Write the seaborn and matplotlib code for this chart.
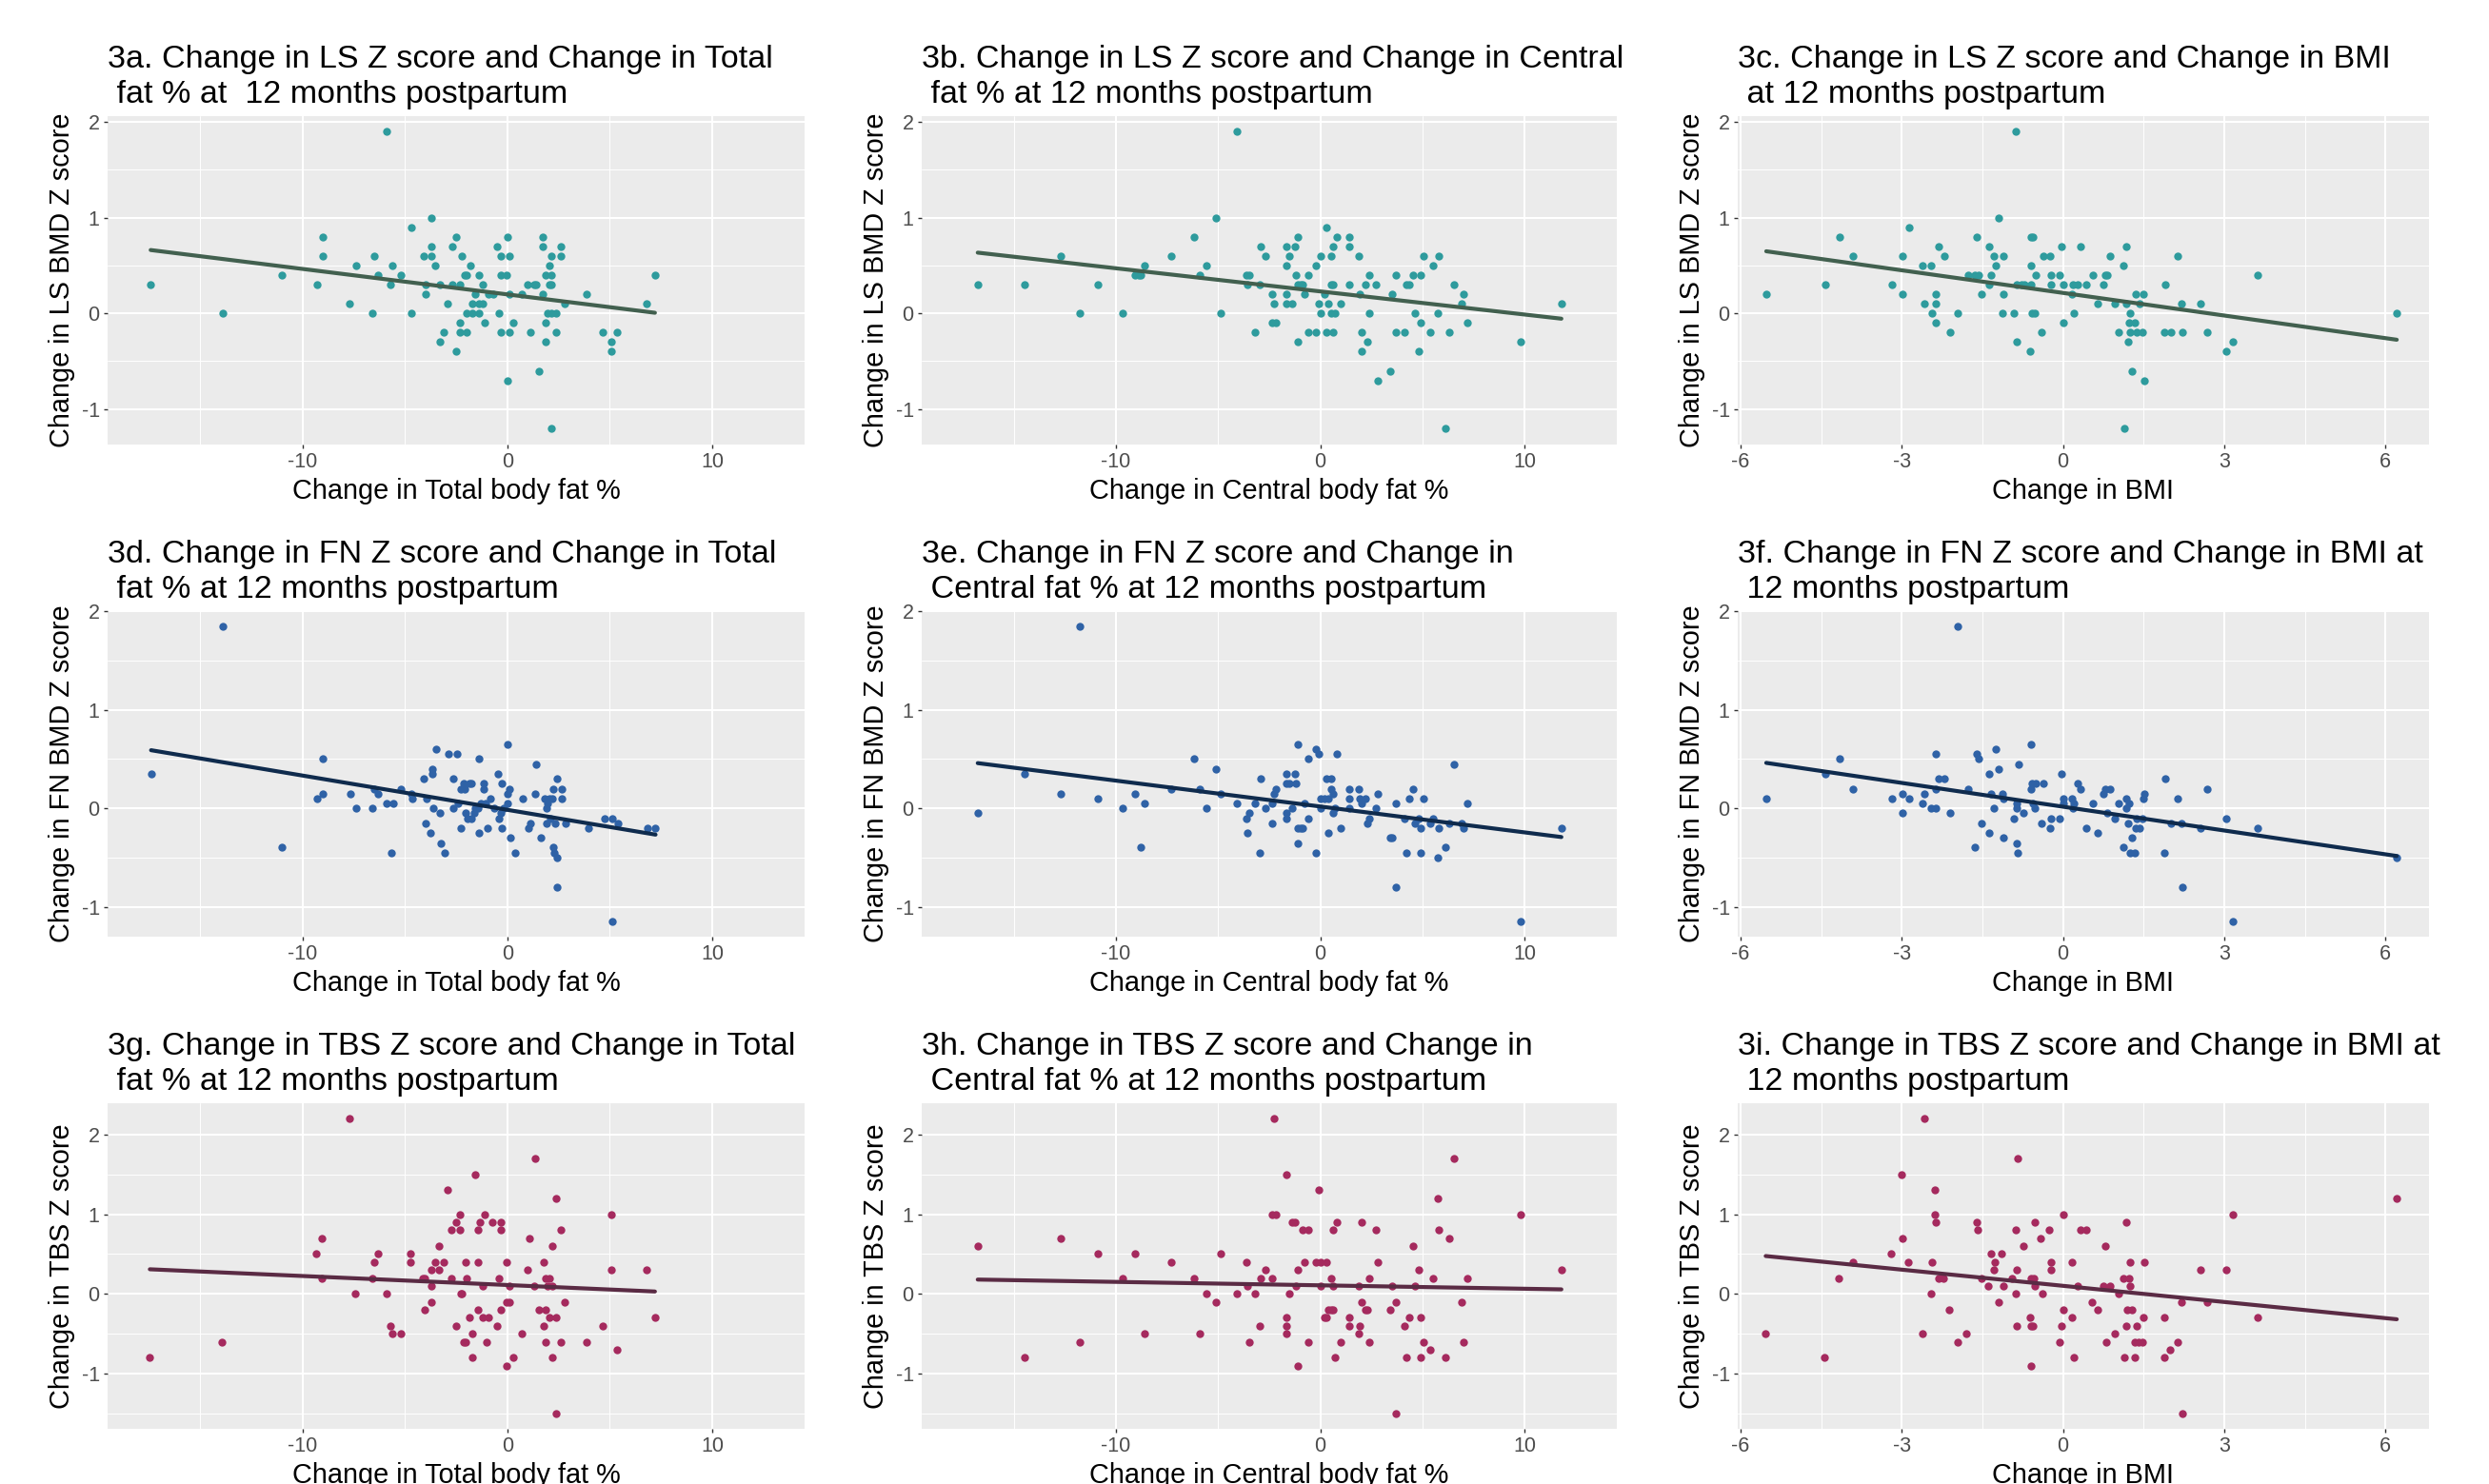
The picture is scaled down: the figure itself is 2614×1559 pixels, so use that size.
import matplotlib
matplotlib.use("Agg")
import matplotlib.pyplot as plt
from matplotlib.ticker import MultipleLocator
import seaborn as sns


# ---- data (one pair of lists per panel) ----
LS_TOTAL_X = [-17.4, -13.9, -11.0, -9.3, -9.0, -9.0, -7.7, -7.4, -6.6, -6.5, -6.3, -5.9, -5.7, -5.6,
              -5.2, -4.7, -4.7, -4.1, -4.0, -4.0, -3.7, -3.7, -3.7, -3.5, -3.3, -3.3, -3.1, -2.9,
              -2.7, -2.7, -2.5, -2.5, -2.3, -2.3, -2.3, -2.2, -2.1, -2.0, -2.0, -2.0, -1.8, -1.7,
              -1.7, -1.55, -1.4, -1.4, -1.4, -1.2, -1.2, -1.1, -0.9, -0.7, -0.5, -0.4, -0.3, -0.3,
              -0.3, -0.05, 0.0, 0.0, 0.1, 0.1, 0.1, 0.3, 0.7, 1.0, 1.1, 1.3, 1.4, 1.55, 1.75, 1.75,
              1.75, 1.85, 1.85, 1.85, 1.95, 2.05, 2.05, 2.15, 2.15, 2.15, 2.15, 2.15, 2.4, 2.4, 2.6,
              2.6, 2.8, 3.85, 4.65, 5.05, 5.05, 5.35, 6.8, 7.2]
LS_TOTAL_Y = [0.3, 0.0, 0.4, 0.3, 0.8, 0.6, 0.1, 0.5, 0.0, 0.6, 0.4, 1.9, 0.3, 0.5,
              0.4, 0.9, 0.0, 0.6, 0.3, 0.2, 1.0, 0.7, 0.6, 0.5, 0.3, -0.3, -0.2, 0.1,
              0.7, 0.3, 0.8, -0.4, 0.3, -0.1, -0.2, 0.6, 0.4, 0.4, -0.2, 0.0, 0.5, 0.1,
              0.0, 0.2, 0.4, 0.1, 0.0, 0.3, 0.1, -0.1, 0.2, 0.2, 0.7, 0.0, 0.6, 0.4,
              -0.2, 0.4, 0.8, -0.7, 0.6, 0.2, -0.2, -0.1, 0.2, 0.3, -0.2, 0.3, 0.3, -0.6, 0.8, 0.7,
              0.2, 0.4, -0.1, -0.3, 0.0, 0.5, 0.3, 0.6, 0.4, 0.3, -1.2, 0.0, 0.0, -0.2, 0.7,
              0.6, 0.1, 0.2, -0.2, -0.3, -0.4, -0.2, 0.1, 0.4]

LS_CENTRAL_X = [-16.76, -14.48, -12.69, -11.76, -10.88, -9.69, -9.09, -8.89, -8.78, -8.58, -7.31,
                -6.19, -5.88, -5.57, -5.10, -4.87, -4.09, -3.63, -3.50, -3.58, -3.19, -2.98, -2.90,
                -2.69, -2.38, -2.38, -2.28, -2.18, -1.68, -1.68, -1.68, -1.68, -1.50, -1.40, -1.22,
                -1.19, -1.11, -1.11, -1.11, -0.98, -0.88, -0.80, -0.60, -0.60, -0.21, -0.21, -0.08,
                0.0, 0.0, 0.31, 0.21, 0.31, 0.41, 0.52, 0.52, 0.52, 0.62, 0.62, 0.62, 0.73, 0.80,
                1.01, 1.40, 1.40, 1.40, 1.89, 1.94, 2.02, 2.02, 2.20, 2.31, 2.41, 2.41, 2.72, 2.82,
                3.42, 3.52, 3.70, 3.70, 4.12, 4.22, 4.33, 4.51, 4.61, 4.82, 4.92, 4.92, 5.03, 5.39,
                5.52, 5.73, 5.80, 6.11, 6.32, 6.53, 6.92, 7.02, 7.20, 9.79, 11.79]
LS_CENTRAL_Y = [0.3, 0.3, 0.6, 0.0, 0.3, 0.0, 0.4, 0.4, 0.4, 0.5, 0.6,
                0.8, 0.4, 0.5, 1.0, 0.0, 1.9, 0.4, 0.4, 0.3, -0.2, 0.3, 0.7,
                0.6, 0.2, -0.1, 0.1, -0.1, 0.7, 0.5, 0.2, 0.1, 0.6, 0.1, 0.7,
                0.4, 0.8, 0.3, -0.3, 0.3, 0.3, 0.2, 0.4, -0.2, 0.5, -0.2, 0.1,
                0.6, 0.0, 0.9, 0.2, -0.2, 0.1, 0.6, 0.3, 0.0, 0.7, 0.3, -0.2, 0.0, 0.8,
                0.1, 0.8, 0.7, 0.3, 0.6, 0.2, -0.2, -0.4, 0.3, -0.3, 0.4, 0.0, 0.3, -0.7,
                -0.6, 0.2, 0.4, -0.2, -0.2, 0.3, 0.3, 0.4, 0.0, -0.4, 0.4, -0.1, 0.6, -0.2,
                0.5, 0.0, 0.6, -1.2, -0.2, 0.3, 0.1, 0.2, -0.1, -0.3, 0.1]

LS_BMI_X = [-5.52, -4.42, -4.16, -3.91, -3.18, -2.98, -2.98, -2.87, -2.61, -2.57, -2.45, -2.43,
            -2.37, -2.37, -2.37, -2.31, -2.21, -2.10, -1.95, -1.77, -1.64, -1.60, -1.57, -1.51,
            -1.38, -1.38, -1.33, -1.28, -1.25, -1.19, -1.13, -1.10, -1.10, -0.92, -0.88, -0.86,
            -0.86, -0.78, -0.71, -0.62, -0.60, -0.60, -0.59, -0.56, -0.57, -0.52, -0.51, -0.40,
            -0.37, -0.24, -0.22, -0.22, -0.06, -0.03, 0.01, 0.01, 0.17, 0.19, 0.21, 0.28, 0.33,
            0.44, 0.55, 0.65, 0.75, 0.78, 0.82, 0.88, 0.97, 1.04, 1.13, 1.18, 1.18, 1.22, 1.14,
            1.23, 1.25, 1.25, 1.28, 1.34, 1.36, 1.37, 1.43, 1.47, 1.50, 1.52, 1.89, 1.90, 2.01,
            2.14, 2.21, 2.23, 2.56, 2.69, 3.04, 3.16, 3.63, 6.21]
LS_BMI_Y = [0.2, 0.3, 0.8, 0.6, 0.3, 0.6, 0.2, 0.9, 0.5, 0.1, 0.5, 0.0,
            0.2, 0.1, -0.1, 0.7, 0.6, -0.2, 0.0, 0.4, 0.4, 0.8, 0.4, 0.2,
            0.7, 0.3, 0.4, 0.6, 0.5, 1.0, 0.0, 0.6, 0.2, 0.0, 1.9, 0.3,
            -0.3, 0.3, 0.3, -0.4, 0.5, 0.3, 0.8, 0.8, 0.0, 0.0, 0.4, -0.2,
            0.6, 0.6, 0.4, 0.3, 0.4, 0.7, 0.3, -0.1, 0.2, 0.3, 0.0, 0.3, 0.7,
            0.3, 0.4, 0.1, 0.3, 0.4, 0.4, 0.6, 0.1, -0.2, 0.5, 0.7, 0.1, -0.3, -1.2,
            -0.1, 0.0, -0.2, -0.6, -0.1, 0.2, -0.2, 0.1, -0.2, 0.2, -0.7, -0.2, 0.3, -0.2,
            0.6, 0.1, -0.2, 0.1, -0.2, -0.4, -0.3, 0.4, 0.0]

FN_TOTAL_X = [-17.38, -13.89, -10.98, -9.27, -8.99, -8.99, -7.67, -7.36, -6.58, -6.50, -6.30,
              -5.88, -5.67, -5.57, -5.18, -4.69, -4.64, -4.07, -3.99, -3.94, -3.76, -3.68, -3.68,
              -3.63, -3.47, -3.29, -3.26, -3.06, -2.88, -2.64, -2.64, -2.46, -2.41, -2.25, -2.25,
              -2.15, -2.07, -2.02, -1.94, -1.84, -1.76, -1.74, -1.63, -1.55, -1.42, -1.37, -1.37,
              -1.30, -1.17, -1.17, -1.04, -0.96, -0.85, -0.62, -0.47, -0.39, -0.31, -0.26, -0.26,
              -0.18, 0.03, 0.03, 0.03, 0.10, 0.13, 0.36, 0.73, 1.04, 1.14, 1.35, 1.40, 1.63, 1.81,
              1.89, 1.92, 1.97, 2.07, 2.10, 2.20, 2.23, 2.23, 2.28, 2.33, 2.44, 2.44, 2.44, 2.64,
              2.64, 2.85, 3.94, 4.74, 5.13, 5.13, 5.41, 6.84, 7.23]
FN_TOTAL_Y = [0.35, 1.85, -0.39, 0.10, 0.50, 0.15, 0.15, 0.0, 0.0, 0.20, 0.15,
              0.05, -0.45, 0.05, 0.20, 0.15, 0.10, 0.30, -0.15, 0.10, -0.25, 0.40, 0.35,
              0.0, 0.60, -0.05, -0.35, -0.45, 0.55, 0.30, 0.0, 0.55, 0.05, -0.20, 0.20,
              0.25, 0.20, -0.05, -0.10, 0.25, 0.25, -0.10, -0.05, 0.0, 0.0, 0.50, -0.25,
              0.05, 0.25, 0.20, 0.05, -0.20, 0.10, 0.0, 0.35, -0.10, -0.05, 0.25, -0.20,
              0.0, 0.65, 0.15, 0.05, 0.20, -0.30, -0.45, 0.10, -0.20, -0.15, 0.15, 0.45, -0.30, 0.10,
              0.0, -0.15, 0.05, 0.10, -0.10, 0.10, 0.20, -0.39, -0.45, -0.15, 0.30, -0.50, -0.80, 0.20,
              0.10, -0.15, -0.20, -0.10, -0.10, -1.15, -0.15, -0.20, -0.20]

FN_CENTRAL_X = [-16.76, -14.48, -12.69, -11.76, -10.88, -9.69, -9.09, -8.78, -8.58, -7.31, -6.19,
                -5.88, -5.57, -5.10, -4.87, -4.09, -3.63, -3.58, -3.50, -3.19, -2.98, -2.90, -2.69,
                -2.38, -2.38, -2.28, -2.18, -1.68, -1.68, -1.68, -1.68, -1.50, -1.40, -1.22, -1.19,
                -1.11, -1.11, -1.11, -0.98, -0.88, -0.80, -0.60, -0.60, -0.21, -0.21, -0.08, 0.0,
                0.0, 0.21, 0.31, 0.41, 0.41, 0.52, 0.52, 0.62, 0.62, 0.73, 0.80, 1.01, 1.40, 1.40,
                1.40, 1.89, 1.94, 2.02, 2.20, 2.31, 2.41, 2.72, 2.82, 3.42, 3.52, 3.70, 3.70, 4.12,
                4.22, 4.33, 4.51, 4.61, 4.82, 4.92, 4.92, 5.03, 5.39, 5.52, 5.73, 5.80, 6.11, 6.32,
                6.53, 6.92, 7.02, 7.20, 9.79, 11.79]
FN_CENTRAL_Y = [-0.05, 0.35, 0.15, 1.85, 0.10, 0.0, 0.15, -0.39, 0.05, 0.20, 0.50,
                0.20, 0.0, 0.40, 0.15, 0.05, -0.10, -0.25, -0.05, 0.05, -0.45, 0.30, 0.0,
                -0.15, 0.05, 0.15, 0.20, 0.35, 0.25, -0.05, -0.10, 0.25, 0.0, 0.35, 0.25,
                0.65, -0.20, -0.35, -0.20, -0.20, 0.05, 0.50, -0.10, 0.60, -0.45, 0.55, 0.10,
                0.0, 0.10, 0.30, -0.25, 0.10, 0.30, 0.20, 0.15, -0.05, 0.0, 0.55, -0.20, 0.20, 0.10,
                0.0, 0.20, 0.10, 0.05, 0.10, -0.15, -0.10, 0.0, 0.15, -0.30, -0.30, 0.05, -0.80, -0.10,
                -0.45, 0.10, 0.20, -0.15, -0.10, -0.20, -0.45, 0.10, -0.15, -0.10, -0.50, -0.20, -0.39, -0.15,
                0.45, -0.15, -0.20, 0.05, -1.15, -0.20]

FN_BMI_X = [-5.52, -4.42, -4.16, -3.91, -3.18, -2.98, -2.98, -2.87, -2.61, -2.57, -2.45, -2.37,
            -2.37, -2.37, -2.31, -2.21, -2.10, -1.95, -1.77, -1.64, -1.60, -1.57, -1.51, -1.38,
            -1.38, -1.33, -1.28, -1.25, -1.19, -1.13, -1.10, -1.10, -0.92, -0.86, -0.86, -0.86,
            -0.85, -0.83, -0.74, -0.60, -0.60, -0.57, -0.56, -0.52, -0.51, -0.40, -0.37, -0.24,
            -0.22, -0.06, -0.03, 0.01, 0.01, 0.17, 0.19, 0.21, 0.28, 0.33, 0.44, 0.55, 0.65, 0.75,
            0.78, 0.82, 0.88, 0.97, 1.04, 1.13, 1.18, 1.18, 1.22, 1.23, 1.25, 1.28, 1.34, 1.36,
            1.37, 1.43, 1.47, 1.50, 1.52, 1.89, 1.90, 2.01, 2.14, 2.21, 2.23, 2.56, 2.69, 3.04,
            3.16, 3.63, 6.21]
FN_BMI_Y = [0.10, 0.35, 0.50, 0.20, 0.10, 0.15, -0.05, 0.10, 0.05, 0.15, 0.0, 0.0,
            0.55, 0.20, 0.30, 0.30, -0.05, 1.85, 0.20, -0.39, 0.55, 0.50, -0.15, 0.35,
            -0.25, 0.15, 0.0, 0.60, 0.40, 0.15, 0.10, -0.30, -0.10, 0.0, 0.05, -0.35,
            -0.45, 0.45, -0.05, 0.65, 0.20, 0.25, 0.05, 0.0, 0.25, -0.15, 0.25, -0.20,
            -0.10, -0.10, 0.35, 0.10, 0.05, 0.10, 0.0, 0.05, 0.25, 0.20, -0.20, 0.05, -0.25, 0.15,
            0.20, -0.05, 0.20, -0.10, 0.05, -0.39, 0.10, 0.0, -0.15, 0.05, -0.45, -0.30, -0.45, -0.20,
            -0.10, -0.20, -0.10, 0.10, 0.15, -0.45, 0.30, -0.15, 0.10, -0.15, -0.80, -0.20, 0.20, -0.10,
            -1.15, -0.20, -0.50]

TBS_TOTAL_X = [-17.44, -13.91, -9.33, -9.04, -9.04, -7.72, -7.41, -6.61, -6.50, -6.32, -5.91,
               -5.70, -5.62, -5.21, -4.74, -4.72, -4.12, -4.04, -4.02, -3.70, -3.70, -3.70, -3.52,
               -3.34, -3.34, -3.11, -2.93, -2.72, -2.72, -2.51, -2.51, -2.31, -2.31, -2.28, -2.20,
               -2.15, -2.02, -2.02, -1.99, -1.84, -1.71, -1.71, -1.55, -1.42, -1.42, -1.42, -1.32,
               -1.22, -1.22, -1.11, -1.01, -0.91, -0.73, -0.52, -0.41, -0.31, -0.31, -0.31, -0.03,
               -0.03, -0.03, 0.08, 0.08, 0.28, 0.70, 0.98, 1.09, 1.30, 1.37, 1.55, 1.76, 1.76, 1.87,
               1.87, 1.87, 1.97, 2.07, 2.07, 2.18, 2.18, 2.18, 2.38, 2.38, 2.38, 2.59, 2.59, 2.80,
               3.86, 4.66, 5.08, 5.08, 5.36, 6.79, 7.20]
TBS_TOTAL_Y = [-0.8, -0.6, 0.5, 0.7, 0.2, 2.2, 0.0, 0.2, 0.4, 0.5, 0.0,
               -0.4, -0.5, -0.5, 0.5, 0.4, 0.2, -0.2, 0.2, -0.1, 0.1, 0.3, 0.4,
               0.6, 0.3, 0.4, 1.3, 0.2, 0.8, 0.9, -0.4, 0.8, 1.0, 0.0, 0.0,
               -0.6, -0.6, 0.4, 0.2, -0.3, -0.5, -0.8, 1.5, 0.8, 0.4, -0.2, 0.9,
               0.1, -0.3, 1.0, -0.6, -0.3, 0.9, -0.4, 0.2, 0.9, 0.8, -0.2, 0.4,
               -0.1, -0.9, -0.1, 0.1, -0.8, -0.5, 0.3, 0.7, 0.1, 1.7, -0.2, 0.4, -0.4, -0.2,
               -0.6, 0.2, 0.1, 0.2, -0.3, 0.6, 0.1, -0.8, 1.2, -0.3, -1.5, 0.8, -0.6, -0.1,
               -0.6, -0.4, 1.0, 0.3, -0.7, 0.3, -0.3]

TBS_CENTRAL_X = [-16.76, -14.48, -12.69, -11.76, -10.88, -9.69, -9.09, -8.58, -7.31, -6.19, -5.88,
                 -5.57, -5.10, -4.87, -4.09, -3.63, -3.58, -3.50, -3.19, -2.98, -2.90, -2.69, -2.38,
                 -2.38, -2.28, -2.18, -1.68, -1.68, -1.68, -1.68, -1.50, -1.40, -1.22, -1.19, -1.11,
                 -1.11, -0.88, -0.80, -0.60, -0.60, -0.21, -0.08, 0.0, 0.0, 0.21, 0.31, 0.31, 0.41,
                 0.52, 0.52, 0.62, 0.62, 0.62, 0.73, 0.80, 1.01, 1.40, 1.40, 1.89, 1.89, 1.94, 2.02,
                 2.02, 2.20, 2.31, 2.41, 2.41, 2.72, 2.82, 3.42, 3.52, 3.70, 3.70, 4.12, 4.22, 4.33,
                 4.51, 4.61, 4.82, 4.92, 4.92, 5.03, 5.39, 5.52, 5.73, 5.80, 6.11, 6.32, 6.53, 6.92,
                 7.02, 7.20, 9.79, 11.79]
TBS_CENTRAL_Y = [0.6, -0.8, 0.7, -0.6, 0.5, 0.2, 0.5, -0.5, 0.4, 0.2, -0.5,
                 0.0, -0.1, 0.5, 0.0, 0.4, 0.1, -0.6, 0.0, -0.4, 0.2, 0.3, 0.2,
                 1.0, 2.2, 1.0, 1.5, -0.3, -0.4, -0.5, 0.0, 0.9, 0.9, 0.1, 0.3,
                 -0.9, 0.8, 0.4, 0.8, -0.6, 0.4, 1.3, 0.4, 0.1, -0.3, 0.4, -0.3, -0.2,
                 0.2, -0.2, 0.8, 0.1, -0.2, -0.8, 0.9, -0.6, -0.3, -0.4, 0.1, -0.5, -0.4, 0.9,
                 -0.1, -0.2, -0.2, 0.2, -0.6, 0.8, 0.4, -0.2, 0.1, -0.1, -1.5, -0.4, -0.8, -0.3,
                 0.6, 0.1, 0.3, -0.3, -0.8, -0.6, -0.7, 0.2, 1.2, 0.8, -0.8, 0.7, 1.7, -0.1,
                 -0.6, 0.2, 1.0, 0.3]

TBS_BMI_X = [-5.53, -4.44, -4.17, -3.91, -3.19, -3.00, -2.99, -2.88, -2.62, -2.58, -2.46, -2.44,
             -2.38, -2.38, -2.37, -2.32, -2.22, -2.12, -1.96, -1.79, -1.61, -1.58, -1.51, -1.39,
             -1.33, -1.29, -1.26, -1.20, -1.14, -1.11, -0.94, -0.88, -0.87, -0.86, -0.86, -0.84,
             -0.74, -0.61, -0.60, -0.60, -0.59, -0.56, -0.54, -0.53, -0.52, -0.41, -0.38, -0.25,
             -0.23, -0.22, -0.07, -0.03, 0.0, 0.0, 0.16, 0.17, 0.21, 0.28, 0.33, 0.44, 0.54, 0.64,
             0.75, 0.78, 0.80, 0.87, 0.97, 1.04, 1.13, 1.14, 1.17, 1.18, 1.20, 1.23, 1.24, 1.25,
             1.28, 1.34, 1.34, 1.37, 1.41, 1.47, 1.49, 1.52, 1.88, 1.89, 2.00, 2.14, 2.21, 2.22,
             2.56, 2.68, 3.04, 3.16, 3.62, 6.21]
TBS_BMI_Y = [-0.5, -0.8, 0.2, 0.4, 0.5, 1.5, 0.7, 0.4, -0.5, 2.2, 0.0, 0.4,
             1.3, 1.0, 0.9, 0.2, 0.2, -0.2, -0.6, -0.5, 0.9, 0.8, 0.2, 0.1,
             0.5, 0.3, 0.4, -0.1, 0.5, 0.1, 0.2, 0.0, 0.8, -0.4, 0.3, 1.7,
             0.6, -0.3, -0.4, -0.9, 0.2, -0.4, 0.2, 0.1, 0.9, 0.7, 0.0, 0.8,
             0.3, 0.4, -0.6, -0.4, 1.0, -0.2, 0.4, -0.3, -0.8, 0.1, 0.8, 0.8, -0.1, -0.2,
             0.1, 0.6, -0.6, 0.1, -0.5, 0.0, 0.2, -0.8, -0.4, 0.9, -0.2, 0.2, 0.4, 0.1,
             -0.2, -0.6, -0.8, -0.4, -0.6, -0.6, -0.3, 0.4, -0.3, -0.8, -0.7, -0.6, -0.1, -1.5,
             0.3, -0.1, 0.3, 1.0, -0.3, 1.2]

TITLES = [
    "3a. Change in LS Z score and Change in Total\n fat % at  12 months postpartum",
    "3b. Change in LS Z score and Change in Central\n fat % at 12 months postpartum",
    "3c. Change in LS Z score and Change in BMI\n at 12 months postpartum",
    "3d. Change in FN Z score and Change in Total\n fat % at 12 months postpartum",
    "3e. Change in FN Z score and Change in\n Central fat % at 12 months postpartum",
    "3f. Change in FN Z score and Change in BMI at\n 12 months postpartum",
    "3g. Change in TBS Z score and Change in Total\n fat % at 12 months postpartum",
    "3h. Change in TBS Z score and Change in\n Central fat % at 12 months postpartum",
    "3i. Change in TBS Z score and Change in BMI at\n 12 months postpartum",
]
X_LABELS = ["Change in Total body fat %", "Change in Central body fat %", "Change in BMI"]
Y_LABELS = ["Change in LS BMD Z score", "Change in FN BMD Z score", "Change in TBS Z score"]

POINT_COLORS = ["#2E9B9D", "#2F62A6", "#A52A5E"]
LINE_COLORS = ["#42604F", "#0F2B4D", "#5A2B44"]

PANEL_DATA = [
    [(LS_TOTAL_X, LS_TOTAL_Y), (LS_CENTRAL_X, LS_CENTRAL_Y), (LS_BMI_X, LS_BMI_Y)],
    [(FN_TOTAL_X, FN_TOTAL_Y), (FN_CENTRAL_X, FN_CENTRAL_Y), (FN_BMI_X, FN_BMI_Y)],
    [(TBS_TOTAL_X, TBS_TOTAL_Y), (TBS_CENTRAL_X, TBS_CENTRAL_Y), (TBS_BMI_X, TBS_BMI_Y)],
]

W, H = 2614, 1559
COL_EDGES = [(113, 845), (968, 1698), (1825, 2551)]
ROW_EDGES = [(122, 467), (642, 984), (1159, 1501)]
X_LIMS = [(-19.5, 14.5), (-19.5, 14.5), (-6.05, 6.81)]
X_STEPS = [(10, 5), (10, 5), (3, 1.5)]
Y_LIMS = [(-1.37, 2.06), (-1.30, 2.0), (-1.69, 2.39)]


def draw_panel(ax, x, y, title, xlabel, ylabel, point_color, line_color, xlim, xstep, ylim):
    sns.regplot(
        x=x, y=y, ax=ax, ci=None, truncate=True,
        scatter_kws=dict(s=36, color=point_color, alpha=1, linewidths=0, zorder=3),
        line_kws=dict(color=line_color, lw=3.0, zorder=4),
    )
    ax.set_xlim(*xlim)
    ax.set_ylim(*ylim)
    ax.xaxis.set_major_locator(MultipleLocator(xstep[0]))
    ax.xaxis.set_minor_locator(MultipleLocator(xstep[1]))
    ax.yaxis.set_major_locator(MultipleLocator(1))
    ax.yaxis.set_minor_locator(MultipleLocator(0.5))
    ax.grid(which="major", color="white", lw=1.5)
    ax.grid(which="minor", color="white", lw=0.7)
    ax.set_axisbelow(True)
    for s in ax.spines.values():
        s.set_visible(False)
    ax.tick_params(which="major", length=3, width=1, color="#333333",
                   labelsize=15.5, labelcolor="#4D4D4D", pad=3, bottom=True, left=True)
    ax.tick_params(which="minor", length=0)
    ax.set_title(title, loc="left", fontsize=24.5, pad=10, color="black", linespacing=1.25)
    ax.set_xlabel(xlabel, fontsize=20.8, labelpad=4, color="black")
    ax.set_ylabel(ylabel, fontsize=20.8, labelpad=5, color="black")


sns.set_theme(style="darkgrid", rc={"axes.facecolor": "#EBEBEB", "figure.facecolor": "white"})
plt.rcParams["font.family"] = ["Liberation Sans", "DejaVu Sans"]
plt.rcParams["axes.unicode_minus"] = False

fig = plt.figure(figsize=(W / 100, H / 100), dpi=100)

for r in range(3):
    for c in range(3):
        left, right = COL_EDGES[c]
        top, bottom = ROW_EDGES[r]
        ax = fig.add_axes([left / W, 1 - bottom / H, (right - left) / W, (bottom - top) / H])
        x, y = PANEL_DATA[r][c]
        draw_panel(ax, x, y, TITLES[r * 3 + c], X_LABELS[c], Y_LABELS[r],
                   POINT_COLORS[r], LINE_COLORS[r], X_LIMS[c], X_STEPS[c], Y_LIMS[r])

fig.savefig("out.png", dpi=100)
plt.close(fig)
